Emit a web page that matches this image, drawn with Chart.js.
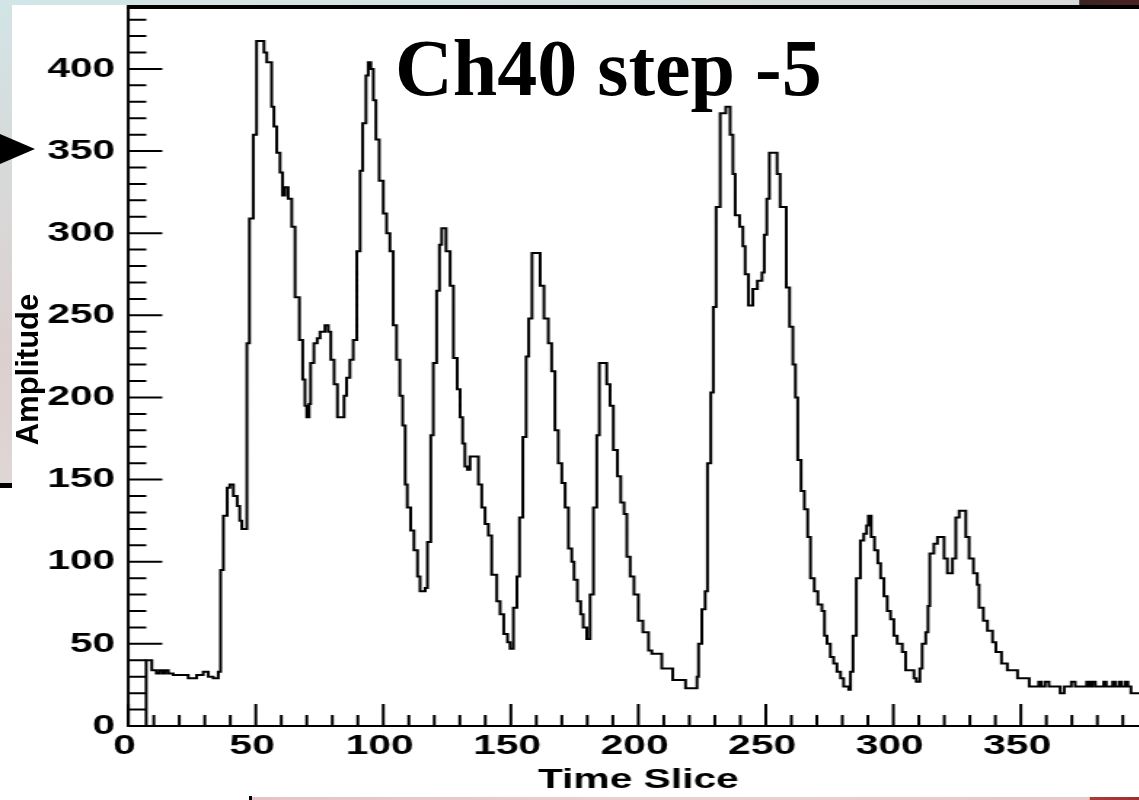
<!DOCTYPE html>
<html><head><meta charset="utf-8">
<script src="https://cdn.jsdelivr.net/npm/chart.js@4.4.1/dist/chart.umd.min.js"></script>
<style>
html,body{margin:0;padding:0;width:1139px;height:800px;overflow:hidden;background:#fff;}
#wrap{position:relative;width:1139px;height:800px;overflow:hidden;background:#fff;}
.abs{position:absolute;}
#topstrip{left:0;top:0;width:1139px;height:5px;background:linear-gradient(90deg,#d1e6e8 0%,#d5e0e0 50%,#d9d9d9 94.7%,#3b2424 94.8%,#4a2222 100%);}
#leftstrip{left:0;top:0;width:12px;height:483px;background:linear-gradient(180deg,#d2e4e5 0%,#d8d8d8 40%,#dccfcf 75%,#dfd6d6 100%);}
#leftbar{left:0;top:483px;width:12px;height:5px;background:#000;}
#bottomstrip{left:251px;top:797px;width:888px;height:3px;background:linear-gradient(90deg,#e6c4c4 0%,#ecd0d0 50%,#e8c8c8 94.4%,#a83a3a 94.5%,#9c3030 100%);}
#mark{left:249px;top:796px;width:3px;height:4px;background:#000;}
canvas{position:absolute;left:0;top:0;transform:scaleX(1.456);transform-origin:0 0;}
#title{left:395px;top:28px;font:bold 80px 'Liberation Serif',serif;line-height:80px;white-space:nowrap;color:#000;}
#ytitle{left:-73px;top:353.5px;width:200px;height:31px;font:bold 31px 'Liberation Sans',Arial,sans-serif;line-height:31px;text-align:center;transform:rotate(-90deg);color:#000;white-space:nowrap;}
</style></head>
<body>
<div id="wrap">
  <div id="topstrip" class="abs"></div>
  <div id="leftstrip" class="abs"></div>
  <div id="leftbar" class="abs"></div>
  <div id="bottomstrip" class="abs"></div>
  <div id="mark" class="abs"></div>
  <canvas id="c" width="800" height="800"></canvas>
  <div id="title" class="abs"></div>
  <div id="ytitle" class="abs"></div>
  <svg class="abs" style="left:0;top:0" width="40" height="170"><polygon points="0,134 35,149 0,164" fill="#000"/></svg>
</div>
<script>
// ---- data (step start in time slices, bin amplitude) ----
const sliceStart = [
  0, 7, 9.2, 11, 12.2, 13.4, 14.5, 15.7, 17.6, 23.5, 26.8, 29.4, 31.4, 33.3, 35.3,
  36.2, 37.3, 38.8, 39.8, 41.2, 42.7, 43.7, 44.5, 46.5, 47.5, 49.0, 50.3, 53.2, 54.3, 56.2, 57.1, 58.2, 59.5, 60.5, 61.4,
  62.7, 64.1, 65.4, 67.1, 68.4, 69.3, 70.0, 70.9, 71.5, 72.8, 74.1, 75.2, 77.1, 78.4, 79.4, 80.7, 82.0, 84.6, 85.6, 86.9,
  88.2, 89.6, 90.9, 91.9, 93.2, 94.1, 95.1, 96.1, 97.1, 98.4, 100.0, 101.3, 102.6, 103.9, 105.2, 106.5, 107.6, 108.6, 109.4, 110.7,
  112.0, 113.4, 114.4, 116.4, 117.3, 118.6, 119.6, 120.9, 122.0, 122.9, 124.6, 126.2, 127.5, 129.0, 130.1, 131.1, 132.0, 133.0, 134.0, 137.3,
  138.6, 139.9, 141.2, 142.5, 144.5, 145.8, 147.2, 148.7, 149.7, 151.0, 152.4, 153.4, 154.7, 156.0, 157.0, 158.3, 161.5, 163.0, 164.7, 166.0,
  167.3, 168.6, 170.0, 171.3, 172.6, 173.9, 174.8, 176.1, 177.4, 178.4, 179.8, 181.1, 182.4, 183.7, 184.7, 187.6, 188.9, 190.2, 191.8, 193.1,
  194.4, 195.5, 196.8, 198.3, 200.0, 201.8, 204.0, 205.3, 209.2, 213.5, 218.5, 223.0, 223.6, 224.9, 226.2, 227.1, 228.4, 229.4, 230.5, 232.1,
  234.3, 236.0, 237.1, 238.0, 239.7, 241.0, 241.9, 243.2, 244.9, 246.7, 248.5, 249.4, 250.4, 251.4, 254.4, 255.6, 258.0, 259.3, 260.6, 261.6,
  262.5, 263.8, 265.1, 266.4, 267.5, 269.0, 270.4, 272.0, 273.0, 274.0, 275.3, 276.6, 277.9, 279.3, 280.5, 282.5, 283.2, 284.2, 285.5, 287.1,
  288.4, 289.5, 290.2, 291.3, 292.6, 293.9, 295.0, 296.3, 297.6, 298.9, 300.2, 301.5, 303.5, 304.8, 308.1, 309.0, 310.4, 311.3, 312.7, 313.6,
  314.3, 315.9, 317.3, 319.9, 321.2, 323.2, 324.5, 325.8, 328.4, 329.7, 331.4, 332.9, 333.6, 335.3, 336.9, 338.9, 340.2, 342.4, 344.7, 348.7,
  353.3, 357, 358, 359.5, 361, 365.4, 367, 369.8, 371.3, 375.8, 376.9, 378, 379.2, 382.5, 383.5, 386, 387, 388.5, 389.5, 391, 392, 393.2, 400
];
const amplitude = [
  0, 40, 34, 32, 34, 32, 34, 32, 31, 29, 31, 33, 30, 29, 33,
  95, 128, 145, 147, 140, 134, 125, 120, 233, 309, 360, 417, 410, 404, 377, 365, 349, 337, 323, 328,
  321, 304, 261, 235, 211, 195, 188, 196, 221, 233, 236, 240, 244, 240, 223, 208, 188, 201, 212, 223,
  235, 289, 338, 367, 396, 404, 400, 381, 357, 332, 312, 300, 289, 244, 223, 201, 183, 147, 133, 119,
  107, 91, 82, 84, 112, 177, 221, 265, 293, 303, 289, 268, 224, 205, 188, 172, 158, 156, 164, 147,
  133, 123, 116, 92, 76, 68, 56, 51, 47, 72, 91, 127, 176, 225, 248, 288, 268, 248, 233, 216,
  180, 160, 148, 133, 108, 100, 89, 76, 68, 60, 53, 80, 133, 177, 221, 208, 195, 168, 152, 136,
  129, 103, 91, 80, 64, 57, 46, 44, 35, 28, 23, 30, 50, 71, 82, 160, 203, 255, 316, 373,
  377, 360, 336, 311, 304, 292, 275, 256, 266, 271, 276, 299, 321, 349, 336, 316, 267, 243, 220, 200,
  162, 143, 132, 115, 90, 82, 74, 70, 55, 50, 42, 38, 33, 29, 24, 22, 33, 55, 90, 113,
  117, 122, 128, 115, 107, 99, 90, 79, 70, 65, 55, 50, 45, 34, 29, 27, 35, 50, 57, 73,
  105, 111, 115, 102, 93, 102, 127, 131, 115, 102, 93, 86, 72, 64, 58, 51, 45, 38, 34, 29,
  24, 27, 24, 27, 24, 20, 24, 27, 24, 27, 24, 27, 24, 27, 24, 27, 24, 27, 24, 27, 24, 20, 20
];
const xMajorTicks = [0, 50, 100, 150, 200, 250, 300, 350];
const yMajorTicks = [0, 50, 100, 150, 200, 250, 300, 350, 400];
const xRange = [0, 400];
const yRange = [0, 437.7];
const minorStep = 10;
const majorStep = 50;
const chartTitle = 'Ch40 step -5';
const xTitle = 'Time Slice';
const yTitle = 'Amplitude';

document.getElementById('title').textContent = chartTitle;
document.getElementById('ytitle').textContent = yTitle;

const STRETCH = 1.456;
const tickFont = {family: "'Liberation Sans', Arial, sans-serif", size: 28, weight: 'bold'};

const framePlugin = {
  id: 'rootFrame',
  afterDatasetsDraw(chart) {
    const {ctx} = chart;
    const x = chart.scales.x, y = chart.scales.y;
    ctx.save();
    ctx.strokeStyle = '#000';
    ctx.lineCap = 'butt';
    ctx.lineWidth = 2;
    ctx.beginPath();
    for (let v = xRange[0]; v <= xRange[1]; v += minorStep) {
      const px = x.getPixelForValue(v);
      const len = (v % majorStep === 0) ? 22 : 11;
      ctx.moveTo(px, y.bottom);
      ctx.lineTo(px, y.bottom - len);
    }
    for (let v = yRange[0]; v <= yRange[1]; v += minorStep) {
      const py = y.getPixelForValue(v);
      const len = (v % majorStep === 0) ? 34 / STRETCH : 18 / STRETCH;
      ctx.moveTo(x.left, py);
      ctx.lineTo(x.left + len, py);
    }
    ctx.stroke();
    ctx.beginPath();
    ctx.moveTo(x.left, y.top);
    ctx.lineTo(x.left, y.bottom);
    ctx.moveTo(x.left - 1, y.bottom);
    ctx.lineTo(x.right, y.bottom);
    ctx.stroke();
    ctx.lineWidth = 4;
    ctx.beginPath();
    ctx.moveTo(x.left - 1, y.top);
    ctx.lineTo(x.right, y.top);
    ctx.stroke();
    ctx.restore();
  }
};

new Chart(document.getElementById('c'), {
  type: 'line',
  data: {
    datasets: [{
      data: sliceStart.map((s, i) => ({x: s, y: amplitude[i]})),
      borderColor: '#000',
      borderWidth: 2,
      pointRadius: 0,
      stepped: true,
      fill: false,
      tension: 0
    }]
  },
  options: {
    responsive: false,
    animation: false,
    devicePixelRatio: 1,
    layout: {padding: {left: 0, right: 11.3, top: 7, bottom: 0}},
    plugins: {legend: {display: false}, tooltip: {enabled: false}, title: {display: false}},
    scales: {
      x: {
        type: 'linear', min: xRange[0], max: xRange[1],
        grid: {display: false, drawTicks: false},
        border: {display: false},
        afterBuildTicks: s => { s.ticks = xMajorTicks.map(v => ({value: v})); },
        afterFit: s => { s.height = 74; s.paddingLeft = 0; s.paddingRight = 0; },
        ticks: {autoSkip: false, maxRotation: 0, padding: 3, labelOffset: -2.5, color: '#000', font: tickFont},
        title: {display: true, text: xTitle, color: '#000', font: tickFont, padding: {top: 0, bottom: 3}}
      },
      y: {
        type: 'linear', min: yRange[0], max: yRange[1],
        grid: {display: false, drawTicks: false},
        border: {display: false},
        afterBuildTicks: s => { s.ticks = yMajorTicks.map(v => ({value: v})); },
        afterFit: s => { s.width = 88.1; s.paddingTop = 0; s.paddingBottom = 0; },
        ticks: {autoSkip: false, padding: 9, color: '#000', font: tickFont}
      }
    }
  },
  plugins: [framePlugin]
});
</script>
</body></html>
